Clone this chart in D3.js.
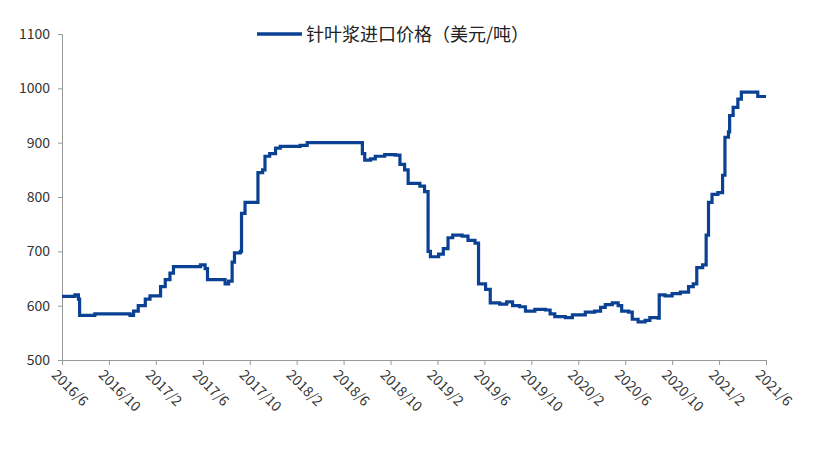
<!DOCTYPE html><html><head><meta charset="utf-8"><script src="https://cdn.jsdelivr.net/npm/d3@7"></script>
<style>body{margin:0;background:#fff}</style></head><body><svg id="c" width="826" height="449"></svg>
<script>
const months=[0,1.1,1.4,1.5,2.8,5.4,5.8,6.1,6.5,7.1,7.5,8.4,8.8,9.2,9.5,11.8,12.2,12.4,13.9,14.2,14.5,14.7,15.2,15.3,15.6,16.5,16.7,17.1,17.3,17.7,18.2,18.6,20.3,20.9,25.4,25.6,25.8,26.3,26.7,27.5,28.4,28.8,29.2,29.5,30.5,30.9,31.2,31.4,32.1,32.5,32.9,33.3,34.1,34.6,35.2,35.5,36.1,36.5,37.3,37.9,38.4,39.0,39.5,40.3,41.2,41.6,42.0,42.9,43.5,44.2,44.6,45.4,45.9,46.3,46.9,47.4,47.7,48.3,48.6,49.1,49.7,50.1,50.8,50.9,51.4,52.0,52.7,53.4,53.8,54.1,54.6,54.9,55.1,55.4,55.9,56.3,56.5,56.8,56.9,57.2,57.6,57.9,59.1,59.3,60];
const prices=[617,620,612,582,585,585,582,590,600,612,618,635,648,660,672,675,668,648,640,645,680,697,700,770,790,790,845,850,875,880,890,893,895,900,900,880,868,870,875,878,877,860,850,825,820,810,700,690,695,705,725,730,728,720,715,640,630,605,603,607,600,598,590,593,592,585,580,578,583,583,588,590,597,602,605,600,590,588,575,570,573,578,577,620,618,622,625,635,640,670,675,730,790,805,808,840,910,920,950,965,980,993,993,985,985];
const tickLabels=["2016/6","2016/10","2017/2","2017/6","2017/10","2018/2","2018/6","2018/10","2019/2","2019/6","2019/10","2020/2","2020/6","2020/10","2021/2","2021/6"];
const yTicks=[500,600,700,800,900,1000,1100];
const svg=d3.select("#c");
const x=d3.scaleLinear().domain([0,60]).range([62,766]);
const y=d3.scaleLinear().domain([500,1100]).range([360,34]);
const font="'Noto Sans CJK SC','DejaVu Sans',sans-serif";
const ya=svg.append("g").attr("transform","translate(62,0)").call(d3.axisLeft(y).tickValues(yTicks).tickFormat(d3.format("d")).tickSize(4).tickPadding(8));
const xa=svg.append("g").attr("transform","translate(0,360)").call(d3.axisBottom(x).tickValues(d3.range(0,61,4)).tickFormat((d,i)=>tickLabels[i]).tickSize(5));
[ya,xa].forEach(a=>{a.selectAll("path,line").attr("stroke","#999");a.selectAll("text").attr("fill","#333").style("font-size","14px").style("font-family",font);});
xa.selectAll("text").attr("text-anchor","start").attr("transform","translate(-6,10) rotate(45)").attr("dy","0");
const line=d3.line().x((d,i)=>x(months[i])).y(d=>y(d)).curve(d3.curveStepAfter);
svg.append("path").datum(prices).attr("d",line).attr("fill","none").attr("stroke","#0b4193").attr("stroke-width",3.2);
svg.append("line").attr("x1",257).attr("x2",302).attr("y1",34).attr("y2",34).attr("stroke","#0b4193").attr("stroke-width",3.5);
svg.append("text").attr("x",306).attr("y",41).text("针叶浆进口价格（美元/吨）").style("font-size","18px").style("font-family",font).attr("fill","#222");
</script></body></html>
